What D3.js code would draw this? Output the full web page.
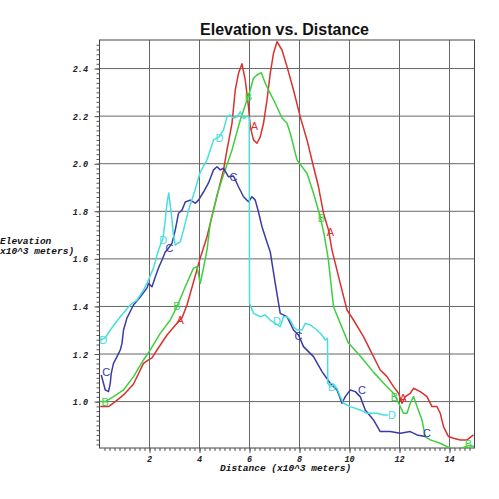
<!DOCTYPE html>
<html>
<head>
<meta charset="utf-8">
<script src="https://cdn.jsdelivr.net/npm/d3@7/dist/d3.min.js"></script>
<style>
  html, body { margin: 0; padding: 0; background: #fff; }
  svg { display: block; }
  .tick-label { font-family: "Liberation Mono", "DejaVu Sans Mono", monospace; font-weight: bold; font-style: italic; font-size: 8.5px; fill: #222; }
  .axis-title { font-family: "Liberation Mono", "DejaVu Sans Mono", monospace; font-weight: bold; font-style: italic; font-size: 9.5px; fill: #111; }
  .marker { font-family: "Liberation Sans", Arial, sans-serif; font-size: 11px; }
</style>
</head>
<body>
<div id="chart"></div>
<script>
// --- DATA (distance in x10^3 m, elevation in x10^3 m) ---
const seriesNames = ["A", "B", "C", "D"];
const seriesColors = ["#d8312e", "#3ecf3e", "#3a3aa8", "#47dede"];

const profileA = [
  [0.03,0.979],[0.36,0.979],[0.63,1.000],[0.96,1.028],[1.36,1.074],[1.76,1.161],[1.96,1.175],
  [2.10,1.184],[2.30,1.217],[2.70,1.280],[3.10,1.329],[3.30,1.352],[3.50,1.406],[3.76,1.503],
  [4.03,1.604],[4.30,1.693],[4.56,1.805],[4.76,1.890],[4.96,1.973],[5.10,2.058],[5.30,2.170],
  [5.43,2.310],[5.56,2.380],[5.70,2.420],[5.83,2.352],[5.96,2.240],[6.03,2.155],[6.16,2.100],
  [6.30,2.086],[6.43,2.113],[6.56,2.170],[6.70,2.268],[6.83,2.380],[6.96,2.464],[7.10,2.513],
  [7.30,2.478],[7.50,2.408],[7.76,2.310],[8.03,2.197],[8.30,2.100],[8.56,1.987],[8.76,1.903],
  [8.96,1.792],[9.16,1.721],[9.30,1.637],[9.63,1.497],[9.90,1.385],[10.16,1.343],[10.56,1.273],
  [10.96,1.189],[11.23,1.133],[11.50,1.105],[11.76,1.063],[11.96,1.035],[12.10,0.993],[12.23,1.021],
  [12.43,1.035],[12.56,1.056],[12.83,1.042],[13.10,1.021],[13.30,0.979],[13.50,0.979],[13.63,0.951],
  [13.76,0.895],[13.96,0.853],[14.16,0.846],[14.43,0.839],[14.70,0.839],[14.96,0.860]
];
const profileB = [
  [0.03,1.000],[0.23,1.000],[0.56,1.021],[0.96,1.049],[1.36,1.105],[1.76,1.175],[2.03,1.217],
  [2.43,1.287],[2.83,1.343],[3.10,1.399],[3.43,1.483],[3.76,1.561],[3.90,1.567],[4.03,1.497],
  [4.16,1.562],[4.30,1.637],[4.43,1.750],[4.70,1.868],[4.96,1.953],[5.30,2.058],[5.63,2.184],
  [5.90,2.268],[6.03,2.310],[6.16,2.360],[6.30,2.373],[6.47,2.383],[6.63,2.338],[6.83,2.296],
  [7.03,2.254],[7.30,2.192],[7.50,2.170],[7.63,2.128],[7.90,2.016],[8.10,1.987],[8.30,1.960],
  [8.56,1.876],[8.83,1.777],[8.99,1.700],[9.15,1.600],[9.36,1.399],[9.95,1.247],[10.43,1.192],
  [10.95,1.125],[11.43,1.070],[11.79,1.032],[12.03,0.979],[12.16,0.951],[12.30,0.951],[12.43,0.993],
  [12.56,1.021],[12.70,0.979],[12.90,0.923],[13.03,0.853],[13.23,0.839],[13.63,0.825],[14.03,0.804],
  [14.35,0.800],[14.76,0.815],[14.99,0.812]
];
const profileC = [
  [0.07,1.112],[0.16,1.077],[0.23,1.049],[0.36,1.042],[0.43,1.077],[0.47,1.119],[0.56,1.161],
  [0.70,1.189],[0.83,1.217],[0.90,1.245],[0.96,1.301],[1.10,1.352],[1.36,1.406],[1.63,1.440],
  [1.90,1.478],[1.96,1.497],[2.10,1.483],[2.23,1.524],[2.36,1.562],[2.50,1.595],[2.63,1.629],
  [2.76,1.645],[2.90,1.666],[3.03,1.721],[3.16,1.792],[3.30,1.805],[3.43,1.839],[3.63,1.847],
  [3.83,1.834],[3.96,1.847],[4.16,1.881],[4.36,1.919],[4.56,1.974],[4.70,1.987],[4.83,1.974],
  [4.96,1.981],[5.16,1.945],[5.36,1.948],[5.56,1.903],[5.76,1.861],[5.96,1.840],[6.10,1.861],
  [6.23,1.847],[6.36,1.797],[6.50,1.735],[6.67,1.679],[6.83,1.629],[7.03,1.497],[7.23,1.371],
  [7.50,1.357],[7.76,1.301],[7.96,1.280],[8.16,1.231],[8.56,1.189],[8.90,1.126],[9.23,1.077],
  [9.50,1.049],[9.70,0.993],[9.83,1.021],[10.03,1.049],[10.23,1.042],[10.43,1.021],[10.63,0.965],
  [10.96,0.923],[11.23,0.874],[11.63,0.874],[12.03,0.867],[12.43,0.874],[12.70,0.860],[13.03,0.853]
];
const profileD = [
  [0.03,1.259],[0.23,1.268],[0.43,1.301],[0.83,1.357],[1.23,1.406],[1.50,1.427],[1.76,1.469],
  [1.96,1.511],[2.16,1.562],[2.36,1.637],[2.54,1.687],[2.63,1.763],[2.70,1.834],[2.77,1.877],
  [2.83,1.826],[2.90,1.763],[2.96,1.700],[3.03,1.658],[3.15,1.667],[3.23,1.672],[3.36,1.721],
  [3.56,1.805],[3.76,1.868],[3.96,1.940],[4.03,1.965],[4.30,2.016],[4.56,2.100],[4.79,2.113],
  [4.96,2.142],[5.10,2.197],[5.23,2.205],[5.36,2.191],[5.50,2.197],[5.63,2.218],[5.76,2.190],
  [5.90,2.200],[5.99,2.195],[6.00,1.413],[6.16,1.371],[6.43,1.357],[6.63,1.364],[6.83,1.343],
  [7.03,1.329],[7.23,1.315],[7.36,1.357],[7.50,1.357],[7.63,1.343],[7.76,1.315],[7.90,1.301],
  [8.10,1.301],[8.23,1.329],[8.43,1.322],[8.70,1.301],[8.90,1.280],[9.03,1.259],[9.12,1.266],
  [9.13,1.077],[9.23,1.063],[9.36,1.070],[9.50,1.056],[9.63,1.021],[9.76,0.993],[10.03,0.979],
  [10.43,0.965],[10.70,0.951],[11.10,0.951],[11.36,0.944],[11.55,0.944]
];

// where each series letter is printed [distance, elevation]
const markersA = [[3.23,1.343],[6.20,2.160],[9.24,1.712],[12.15,1.015]];
const markersB = [[0.23,1.000],[3.10,1.400],[5.96,2.280],[8.88,1.772],[11.80,1.020],[14.76,0.820]];
const markersC = [[0.27,1.125],[2.80,1.645],[5.36,1.945],[7.96,1.276],[10.50,1.050],[13.10,0.870]];
const markersD = [[0.15,1.260],[2.55,1.680],[4.80,2.110],[7.10,1.340],[9.30,1.060],[11.70,0.945]];

const xTicks = [2, 4, 6, 8, 10, 12, 14];
const yTicks = [1.0, 1.2, 1.4, 1.6, 1.8, 2.0, 2.2, 2.4];

// --- SETUP ---
const W = 499, H = 499;
const svg = d3.select("#chart").append("svg").attr("width", W).attr("height", H);
svg.append("rect").attr("width", W).attr("height", H).attr("fill", "#fff");

const x = d3.scaleLinear().domain([0, 15]).range([99.5, 474.5]);
const y = d3.scaleLinear().domain([0.805, 2.52]).range([448, 40]);

svg.append("defs").append("clipPath").attr("id", "plot-clip")
  .append("rect").attr("x", x(0)).attr("y", y(2.52)).attr("width", x(15) - x(0)).attr("height", y(0.805) - y(2.52));

// grid
const grid = svg.append("g").attr("stroke", "#666").attr("stroke-width", 1);
grid.selectAll(".vg").data(xTicks).join("line").attr("class", "vg")
  .attr("x1", d => x(d)).attr("x2", d => x(d)).attr("y1", y(2.52)).attr("y2", y(0.805));
grid.selectAll(".hg").data(yTicks).join("line").attr("class", "hg")
  .attr("x1", x(0)).attr("x2", x(15)).attr("y1", d => y(d)).attr("y2", d => y(d));

// minor + major ticks (outside the frame)
const xMinor = d3.range(1, 75).map(i => i * 0.2);
const yMinor = d3.range(41, 126).map(i => i * 0.02);
const xAxisG = svg.append("g").attr("transform", `translate(0,${y(0.805)})`);
xAxisG.call(d3.axisBottom(x).tickValues(xMinor).tickSize(3).tickFormat(""));
xAxisG.append("g").call(d3.axisBottom(x).tickValues(xTicks).tickSize(5).tickFormat(""));
xAxisG.selectAll(".domain").remove();
xAxisG.selectAll("line").attr("stroke", "#555");

const yAxisG = svg.append("g").attr("transform", `translate(${x(0)},0)`);
yAxisG.call(d3.axisLeft(y).tickValues(yMinor).tickSize(3).tickFormat(""));
yAxisG.append("g").call(d3.axisLeft(y).tickValues(yTicks).tickSize(5).tickFormat(""));
yAxisG.selectAll(".domain").remove();
yAxisG.selectAll("line").attr("stroke", "#555");

// tick labels
svg.selectAll(".xl").data(xTicks).join("text").attr("class", "tick-label")
  .attr("x", d => x(d)).attr("y", 461.5).attr("text-anchor", "middle").text(d => d);
svg.selectAll(".yl").data(yTicks).join("text").attr("class", "tick-label")
  .attr("x", 88).attr("y", d => y(d) + 3.5).attr("text-anchor", "end").text(d => d3.format(".1f")(d));

// frame
svg.append("rect").attr("x", x(0)).attr("y", y(2.52)).attr("width", x(15) - x(0)).attr("height", y(0.805) - y(2.52))
  .attr("fill", "none").attr("stroke", "#444").attr("stroke-width", 1);

// --- LINES ---
const profiles = [profileA, profileB, profileC, profileD];
const markerSets = [markersA, markersB, markersC, markersD];
const line = d3.line().x(d => x(d[0])).y(d => y(d[1]));
const plot = svg.append("g").attr("clip-path", "url(#plot-clip)");

profiles.forEach((data, k) => {
  plot.append("path").datum(data).attr("d", line)
    .attr("fill", "none").attr("stroke", seriesColors[k]).attr("stroke-width", 1.5).attr("stroke-linejoin", "round");
});
markerSets.forEach((marks, k) => {
  plot.selectAll(`.m${k}`).data(marks).join("text").attr("class", `marker m${k}`)
    .attr("x", d => x(d[0])).attr("y", d => y(d[1]))
    .attr("text-anchor", "middle").attr("dominant-baseline", "central")
    .attr("fill", seriesColors[k]).text(seriesNames[k]);
});

// --- TITLES ---
svg.append("text").attr("x", 284.5).attr("y", 35).attr("text-anchor", "middle")
  .style("font-family", "'Liberation Sans', Arial, sans-serif").style("font-weight", "bold").style("font-size", "16px")
  .attr("fill", "#111").text("Elevation vs. Distance");
svg.append("text").attr("class", "axis-title").attr("x", 220).attr("y", 471).text("Distance (x10^3 meters)");
svg.append("text").attr("class", "axis-title").attr("x", 0).attr("y", 244).text("Elevation");
svg.append("text").attr("class", "axis-title").attr("x", 0).attr("y", 254).text("x10^3 meters)");
</script>
</body>
</html>
